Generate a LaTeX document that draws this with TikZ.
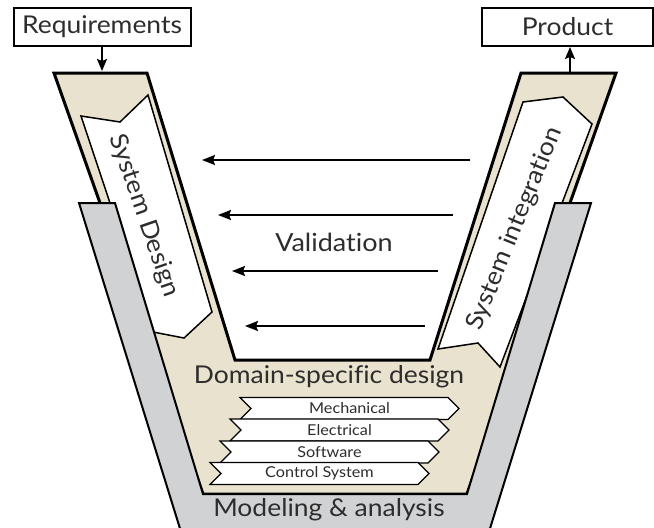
\documentclass[tikz,border=0pt]{standalone}
\usepackage{fontspec}
\setmainfont{Lato}[Ligatures=NoCommon, FakeStretch=1.08]
\usetikzlibrary{arrows.meta,shapes.symbols}

\definecolor{sand}{RGB}{233,226,206}
\definecolor{steel}{RGB}{209,210,212}
\definecolor{ink}{RGB}{45,45,45}

\tikzset{
  io box/.style={draw, line width=2pt, minimum height=38pt, inner sep=0pt, text=ink,
    font=\fontsize{24.5}{26}\selectfont},
  big text/.style={text=ink, inner sep=0pt, font=\fontsize{#1}{#1}\selectfont},
  strip/.style={signal, signal to=east, signal from=west, draw, line width=1.2pt, fill=white,
    minimum width=219pt, minimum height=22pt, inner sep=0pt, text=ink,
    font=\fontsize{15}{16}\selectfont},
  flow/.style={line width=1.5pt, -{Stealth[length=12pt,width=10pt,inset=2pt]}},
  back/.style={line width=2pt, -{Stealth[length=13pt,width=10pt,inset=2pt]}},
}

\begin{document}
\begin{tikzpicture}[x=1pt,y=-1pt,line join=miter]
\useasboundingbox (0,0) rectangle (654,528);
\clip (0,0) rectangle (654,528);

\draw[fill=sand, line width=3pt] (54,73) -- (147,73) -- (235,360) -- (430,360) -- (521,73)
  -- (616,73) -- (467,494) -- (203,494) -- cycle;

\draw[fill=white, line width=1.5pt] (81,116) -- (120,122) -- (148,95) -- (212,312) -- (184,338)
  -- (153,332) -- cycle;
\draw[fill=white, line width=1.5pt] (523,102) -- (563,97) -- (592,124) -- (500,367) -- (478,343)
  -- (438,349) -- cycle;

\draw[fill=steel, line width=2pt] (79,203) -- (115,203) -- (203,494) -- (467,494) -- (555,203)
  -- (591,203) -- (488,535) -- (182,535) -- cycle;

\node[io box, minimum width=177pt] (req) at (102,27) {Requirements};
\node[io box, minimum width=171pt] (prod) at (567.5,27) {Product};
\coordinate (reqin) at (102,71);
\coordinate (prodout) at (570,72);
\draw[flow] (req.south) -- (reqin);
\draw[flow] (prodout) -- (prod.south -| prodout);

\node[big text=24.5, rotate=-71] (design) at (144,216) {System Design};
\node[big text=24.5, rotate=68] (integ) at (515,229) {System integration};

\coordinate (v1a) at (470,160); \coordinate (v1b) at (202,160);
\coordinate (v2a) at (453,215); \coordinate (v2b) at (218,215);
\coordinate (v3a) at (438,271); \coordinate (v3b) at (232,271);
\coordinate (v4a) at (425,326); \coordinate (v4b) at (245,326);
\draw[back] (v1a) -- (v1b);
\draw[back] (v2a) -- (v2b);
\draw[back] (v3a) -- (v3b);
\draw[back] (v4a) -- (v4b);
\node[big text=25] (valid) at (334,242) {Validation};

\node[big text=24.5] (domain) at (329,377) {Domain-specific design};
\node[strip] (mech) at (349.5,408.5) {Mechanical};
\node[strip] (elec) at (339.5,430) {Electrical};
\node[strip] (soft) at (329.5,452) {Software};
\node[strip] (ctrl) at (319.5,473.5) {Control System};

\node[big text=24.5] (model) at (329,510) {Modeling \& analysis};
\end{tikzpicture}
\end{document}
